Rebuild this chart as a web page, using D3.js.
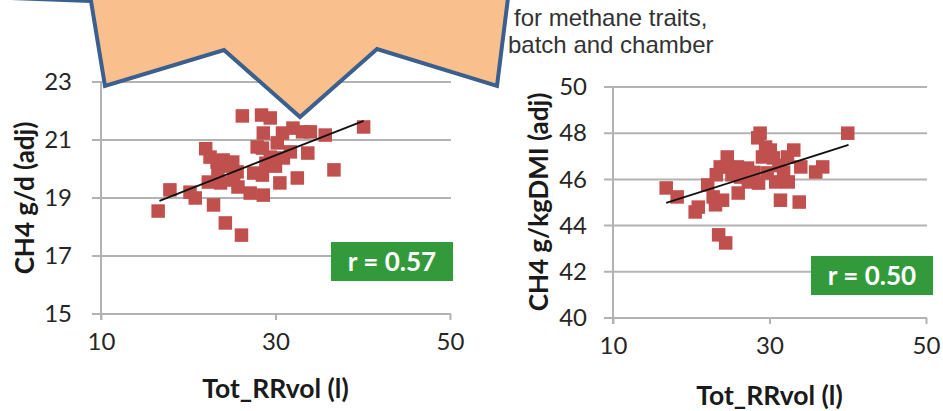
<!DOCTYPE html>
<html>
<head>
<meta charset="utf-8">
<script src="https://cdn.jsdelivr.net/npm/d3@7"></script>
<style>
  body { margin: 0; background: #fff; }
  svg { display: block; }
</style>
</head>
<body>
<div id="container"></div>
<script>
let w = 943;
let h = 411;

// data
let xTicks = [10, 30, 50];
let yTicksLeft = [15, 17, 19, 21, 23];
let yTicksRight = [40, 42, 44, 46, 48, 50];

let rrvolLeft = [16.55, 17.9, 20.2, 20.8, 22.0, 22.9, 24.25, 26.1, 26.2, 28.4, 29.4, 28.6, 28.5, 30.8, 32.0,
  33.1, 34.0, 35.7, 40.1, 33.7, 36.7, 32.5, 30.5, 28.6, 27.1, 25.7, 22.5, 23.3, 24.0, 25.1,
  23.4, 23.7, 22.3, 25.6, 27.5, 28.5, 29.4, 30.9, 30.2, 31.7, 27.9, 25.2, 24.6, 28.9, 30.0];
let ch4Daily = [18.55, 19.28, 19.2, 19.0, 20.7, 18.76, 18.14, 17.72, 21.83, 21.86, 21.76, 21.24, 20.72, 21.24, 21.41,
  21.28, 21.28, 21.17, 21.45, 20.55, 19.97, 19.69, 19.52, 19.1, 19.17, 19.38, 20.41, 20.24, 20.31, 20.24,
  19.97, 19.52, 19.55, 19.9, 19.86, 19.79, 20.41, 20.38, 20.9, 20.59, 20.76, 19.62, 20.1, 20.2, 20.1];

let rrvolRight = [16.8, 18.2, 20.5, 20.9, 22.1, 22.8, 24.0, 23.1, 23.5, 24.4, 23.7, 24.6, 24.7, 25.9, 26.0,
  27.2, 27.3, 28.6, 28.8, 28.5, 29.1, 30.1, 30.5, 30.8, 31.4, 31.8, 32.4, 33.1, 34.0, 33.8,
  35.9, 36.8, 40.0, 26.3, 28.0, 29.7, 31.2, 32.3, 29.5, 23.2, 25.2];
let ch4Yield = [45.63, 45.24, 44.59, 44.8, 45.76, 45.24, 45.1, 44.9, 43.6, 43.25, 46.54, 46.97, 46.54, 46.54, 45.41,
  46.49, 45.89, 45.84, 48.0, 47.8, 46.97, 47.27, 46.93, 45.89, 45.1, 46.32, 45.89, 47.27, 46.54, 45.02,
  46.32, 46.54, 48.0, 46.1, 46.3, 46.28, 46.6, 46.97, 47.4, 46.2, 46.2];

// linear trend end points
let trendLeftX = [16.7, 40.1];
let trendLeftY = [18.9, 21.66];
let trendRightX = [16.8, 40.1];
let trendRightY = [44.98, 47.49];

let noteLines = ["for methane traits,", "batch and chamber"];

let viz = d3.select("#container").append("svg")
    .attr("width", w)
    .attr("height", h)
    .style("background-color", "white");

let labelFont = "Lato, 'Open Sans', sans-serif";
let gridColor = "#b3b3b3";

function drawPanel(opt) {
  let xScale = d3.scaleLinear().domain([10, 50]).range([opt.left, opt.right]);
  let yScale = d3.scaleLinear().domain(opt.yDomain).range([opt.bottom, opt.top]);

  let g = viz.append("g").attr("class", "panel");

  // horizontal gridlines (with the tick stubs to the left of the axis)
  g.selectAll(".grid").data(opt.yTicks).enter()
    .append("line")
      .attr("class", "grid")
      .attr("x1", opt.left - 9)
      .attr("x2", opt.right + 1)
      .attr("y1", d => yScale(d))
      .attr("y2", d => yScale(d))
      .attr("stroke", gridColor)
      .attr("stroke-width", 2);

  // y axis line
  g.append("line")
    .attr("x1", opt.left).attr("x2", opt.left)
    .attr("y1", yScale(opt.yDomain[1])).attr("y2", opt.bottom + 6)
    .attr("stroke", gridColor).attr("stroke-width", 2);

  // x axis ticks (going down)
  let xAxis = d3.axisBottom(xScale).tickValues(xTicks).tickSize(6).tickSizeOuter(0).tickPadding(13);
  let xAxisGroup = g.append("g")
      .attr("transform", "translate(0," + opt.bottom + ")")
      .call(xAxis);
  xAxisGroup.select(".domain").attr("display", "none");
  xAxisGroup.selectAll("line").attr("stroke", gridColor).attr("stroke-width", 2);
  xAxisGroup.selectAll("text")
      .attr("font-family", labelFont)
      .attr("font-size", 24)
      .attr("fill", "#262626");

  // y axis tick labels
  let yAxis = d3.axisLeft(yScale).tickValues(opt.yTicks).tickSize(0).tickPadding(opt.yPad);
  let yAxisGroup = g.append("g")
      .attr("transform", "translate(" + opt.left + ",0)")
      .call(yAxis);
  yAxisGroup.select(".domain").attr("display", "none");
  yAxisGroup.selectAll("text")
      .attr("font-family", labelFont)
      .attr("font-size", 24)
      .attr("fill", "#262626");

  // points
  g.selectAll(".pt").data(opt.xs).enter()
    .append("rect")
      .attr("class", "pt")
      .attr("x", (d, i) => xScale(d) - 6.75)
      .attr("y", (d, i) => yScale(opt.ys[i]) - 6.75)
      .attr("width", 13.5)
      .attr("height", 13.5)
      .attr("fill", "#c0504d");

  // trend line
  g.append("line")
    .attr("x1", xScale(opt.trendX[0])).attr("y1", yScale(opt.trendY[0]))
    .attr("x2", xScale(opt.trendX[1])).attr("y2", yScale(opt.trendY[1]))
    .attr("stroke", "#111").attr("stroke-width", 1.8);

  // r box
  g.append("rect")
    .attr("x", opt.box[0]).attr("y", opt.box[1])
    .attr("width", opt.box[2]).attr("height", opt.box[3])
    .attr("fill", "#339a3c");
  g.append("text")
    .attr("x", opt.box[0] + opt.box[2] / 2)
    .attr("y", opt.box[1] + opt.box[3] / 2 + 9)
    .attr("text-anchor", "middle")
    .attr("font-family", labelFont)
    .attr("font-weight", "bold")
    .attr("font-size", 26)
    .attr("fill", "white")
    .text(opt.rText);

  // axis titles
  g.append("text")
    .attr("x", (opt.left + opt.right) / 2)
    .attr("y", opt.xTitleY)
    .attr("text-anchor", "middle")
    .attr("font-family", labelFont)
    .attr("font-weight", "bold")
    .attr("font-size", 26.5)
    .attr("fill", "#1a1a1a")
    .text("Tot_RRvol (l)");

  g.append("text")
    .attr("transform", "translate(" + opt.yTitle[0] + "," + opt.yTitle[1] + ") rotate(-90)")
    .attr("text-anchor", "middle")
    .attr("font-family", labelFont)
    .attr("font-weight", "bold")
    .attr("font-size", 26)
    .attr("fill", "#1a1a1a")
    .text(opt.yLabel);
}

drawPanel({
  left: 101, right: 450, top: 82, bottom: 314,
  yDomain: [15, 23], yTicks: yTicksLeft, yPad: 29,
  xs: rrvolLeft, ys: ch4Daily,
  trendX: trendLeftX, trendY: trendLeftY,
  box: [331, 242, 122, 39], rText: "r = 0.57",
  xTitleY: 398, yTitle: [34, 198], yLabel: "CH4 g/d (adj)"
});

drawPanel({
  left: 613, right: 926, top: 87, bottom: 318,
  yDomain: [40, 50], yTicks: yTicksRight, yPad: 26,
  xs: rrvolRight, ys: ch4Yield,
  trendX: trendRightX, trendY: trendRightY,
  box: [811, 256, 122, 39], rText: "r = 0.50",
  xTitleY: 405, yTitle: [548, 202], yLabel: "CH4 g/kgDMI (adj)"
});

// note text top right
viz.selectAll(".note").data(noteLines).enter()
  .append("text")
    .attr("class", "note")
    .attr("x", (d, i) => i === 0 ? 514 : 508)
    .attr("y", (d, i) => 26 + i * 27)
    .attr("font-family", "'Liberation Sans', Arial, sans-serif")
    .attr("font-size", 24)
    .attr("fill", "#333333")
    .text(d => d);

// the orange callout burst covering the top left
let burst = [[-150, -8], [91, 1], [105, 86], [224, 50], [300, 117], [377, 49], [497, 86], [508, -2], [540, -40], [-150, -40]];
viz.append("polygon")
  .attr("points", burst.map(p => p.join(",")).join(" "))
  .attr("fill", "#f9c08e")
  .attr("stroke", "#3b5f8e")
  .attr("stroke-width", 4)
  .attr("stroke-linejoin", "miter");
</script>
</body>
</html>
